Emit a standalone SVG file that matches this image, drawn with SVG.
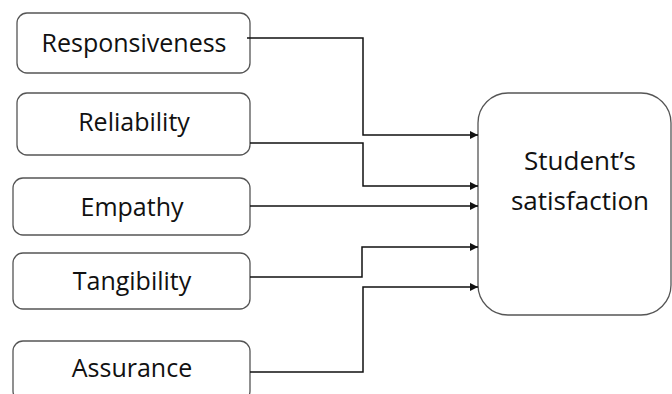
<svg xmlns="http://www.w3.org/2000/svg" width="672" height="394" viewBox="0 0 672 394">
<style>
.box{fill:#fff;stroke:#555;stroke-width:1.3}
.lbl{font-family:"Open Sans","Liberation Sans",sans-serif;font-size:25px;fill:#111;text-anchor:middle}
.big{font-size:26px}
.con{fill:none;stroke:#111;stroke-width:1.5}
</style>
<defs>
<marker id="arr" viewBox="0 0 10 10" refX="10" refY="5" markerWidth="10" markerHeight="8" markerUnits="userSpaceOnUse" orient="auto">
<path d="M0,0 L10,5 L0,10 z" fill="#111"/>
</marker>
</defs>
<rect width="672" height="394" fill="#fff"/>
<g id="responsiveness"><rect class="box" x="17" y="13" width="233" height="60" rx="10"/><text class="lbl" x="134" y="52">Responsiveness</text></g>
<g id="reliability"><rect class="box" x="17" y="93" width="233" height="62" rx="10"/><text class="lbl" x="134" y="131">Reliability</text></g>
<g id="empathy"><rect class="box" x="13" y="178" width="237" height="57" rx="10"/><text class="lbl" x="132" y="216">Empathy</text></g>
<g id="tangibility"><rect class="box" x="13" y="253" width="237" height="56" rx="10"/><text class="lbl" x="132" y="290">Tangibility</text></g>
<g id="assurance"><rect class="box" x="13" y="341" width="237" height="60" rx="10"/><text class="lbl" x="132" y="377">Assurance</text></g>
<g id="satisfaction"><rect class="box" x="478" y="93" width="193" height="222" rx="30"/><text class="lbl big" x="580" y="170">Student’s</text><text class="lbl big" x="580" y="210">satisfaction</text></g>
<g id="connectors">
<path class="con" d="M247,38 H363 V135 H478" marker-end="url(#arr)"/>
<path class="con" d="M250,143 H363 V186 H478" marker-end="url(#arr)"/>
<path class="con" d="M250,206 H478" marker-end="url(#arr)"/>
<path class="con" d="M250,277 H362 V247 H478" marker-end="url(#arr)"/>
<path class="con" d="M250,372 H363 V287 H478" marker-end="url(#arr)"/>
</g>
</svg>
